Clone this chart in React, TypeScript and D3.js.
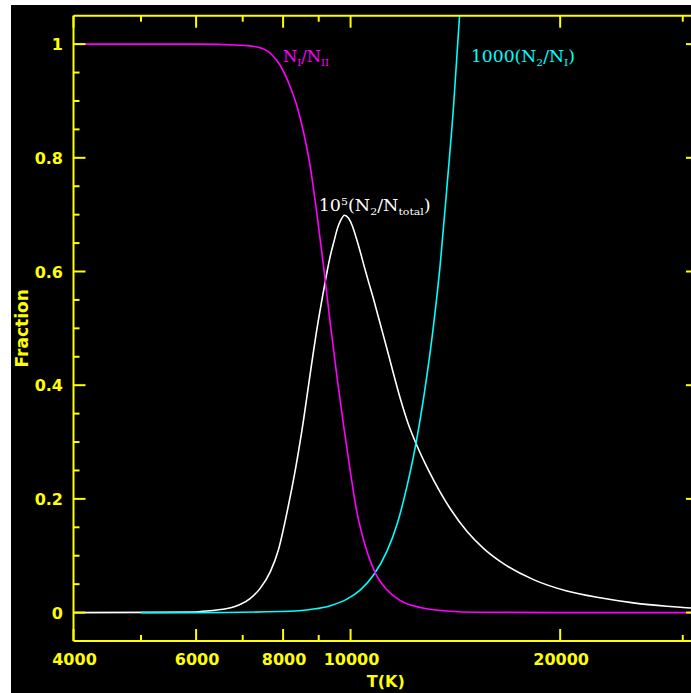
import React from "react";
import * as d3 from "d3";

// ---- data ----
const X_MAJOR = [4000, 6000, 8000, 10000, 20000];
const X_MINOR = [5000, 7000, 9000, 30000];
const Y_MAJOR = [0, 0.2, 0.4, 0.6, 0.8, 1];
const Y_MINOR = [0.05, 0.1, 0.15, 0.25, 0.3, 0.35, 0.45, 0.5, 0.55, 0.65, 0.7, 0.75, 0.85, 0.9, 0.95];
const Y_LABELS = ["0", "0.2", "0.4", "0.6", "0.8", "1"];

// N_I / N_total (magenta)
const ionT = [4000, 5000, 6000, 6950, 7340, 7670, 7930, 8190, 8380, 8560, 8750, 8950, 9150, 9350, 9560, 9770, 9990, 10210, 10500, 10850, 11280, 11790, 12590, 13900, 15190, 20000, 31550];
const ionV = [1, 1, 1, 0.998, 0.995, 0.984, 0.962, 0.925, 0.89, 0.845, 0.785, 0.7, 0.607, 0.509, 0.415, 0.33, 0.249, 0.177, 0.117, 0.07, 0.04, 0.021, 0.009, 0.0023, 0.0005, 0, 0];

// 1e5 (N2 / N_total) (white)
const totT = [4000, 5950, 6090, 6430, 6790, 6950, 7180, 7420, 7670, 7880, 8100, 8330, 8560, 8750, 8950, 9170, 9260, 9350, 9480, 9570, 9670, 9800, 9930, 10060, 10190, 10330, 10460, 10600, 10820, 11030, 11290, 11520, 11790, 12100, 12460, 12800, 13160, 13900, 14690, 15520, 16400, 18310, 20450, 22830, 25480, 28450, 30840, 31550];
const totV = [0, 0.0008, 0.002, 0.0045, 0.01, 0.0145, 0.025, 0.043, 0.072, 0.111, 0.175, 0.251, 0.339, 0.42, 0.5, 0.574, 0.602, 0.627, 0.656, 0.675, 0.689, 0.699, 0.694, 0.68, 0.659, 0.634, 0.609, 0.584, 0.546, 0.508, 0.462, 0.421, 0.376, 0.332, 0.293, 0.262, 0.233, 0.183, 0.143, 0.113, 0.09, 0.058, 0.038, 0.026, 0.017, 0.011, 0.008, 0.0075];

// 1000 (N2 / N1) (cyan)
const excT = [5000, 6000, 7930, 8850, 9350, 9880, 10330, 10790, 11280, 11660, 12050, 12390, 12730, 13160, 13450, 13750, 14060, 14340];
const excV = [0, 0, 0.0018, 0.0062, 0.0122, 0.0237, 0.04, 0.066, 0.108, 0.155, 0.222, 0.292, 0.377, 0.506, 0.612, 0.747, 0.892, 1.05];

const YELLOW = "#ffff00";

export default function App() {
  const W = 691;
  const H = 693;
  const left = 73.5, right = 698, top = 15.7, bottom = 641;
  const x = d3.scaleLog().domain([4000, 31550]).range([left, right]);
  const y = d3.scaleLinear().domain([-0.05, 1.05]).range([bottom, top]);
  const line = d3
    .line<[number, number]>()
    .x((d) => x(d[0]))
    .y((d) => y(d[1]))
    .curve(d3.curveMonotoneX);

  const series = [
    { t: totT, v: totV, color: "#ffffff" },
    { t: excT, v: excV, color: "#00ffff" },
    { t: ionT, v: ionV, color: "#ff00ff" },
  ];

  const tickFont = { fontFamily: "DejaVu Sans", fontWeight: 700, fontSize: 16 };
  const serif = { fontFamily: "DejaVu Serif", fontSize: 16 };

  return (
    <svg
      width={W}
      height={H}
      style={{ position: "absolute", left: 0, top: 0 }}
    >
      <rect x={0} y={0} width={W} height={H} fill="#ffffff" />
      <rect x={11} y={5} width={W - 11} height={H - 5} fill="#000000" />
      <defs>
        <clipPath id="plot">
          <rect x={left} y={top} width={right - left} height={bottom - top} />
        </clipPath>
      </defs>

      {/* curves */}
      <g clipPath="url(#plot)">
        {series.map((s, i) => (
          <path
            key={i}
            d={line(d3.zip(s.t, s.v) as [number, number][]) || ""}
            fill="none"
            stroke={s.color}
            strokeWidth={1.6}
          />
        ))}
      </g>

      {/* frame */}
      <g stroke={YELLOW} strokeWidth={2} fill="none">
        <line x1={left} x2={right} y1={top} y2={top} />
        <line x1={left} x2={right} y1={bottom} y2={bottom} />
        <line x1={left} x2={left} y1={top} y2={bottom} />
        <line x1={right} x2={right} y1={top} y2={bottom} />
        {X_MAJOR.map((t) => (
          <g key={"xM" + t}>
            <line x1={x(t)} x2={x(t)} y1={bottom} y2={bottom - 12} />
            <line x1={x(t)} x2={x(t)} y1={top} y2={top + 12} />
          </g>
        ))}
        {X_MINOR.map((t) => (
          <g key={"xm" + t}>
            <line x1={x(t)} x2={x(t)} y1={bottom} y2={bottom - 6} />
            <line x1={x(t)} x2={x(t)} y1={top} y2={top + 6} />
          </g>
        ))}
        {Y_MAJOR.map((v) => (
          <g key={"yM" + v}>
            <line x1={left} x2={left + 12} y1={y(v)} y2={y(v)} />
            <line x1={right} x2={right - 12} y1={y(v)} y2={y(v)} />
          </g>
        ))}
        {Y_MINOR.map((v) => (
          <g key={"ym" + v}>
            <line x1={left} x2={left + 6} y1={y(v)} y2={y(v)} />
            <line x1={right} x2={right - 6} y1={y(v)} y2={y(v)} />
          </g>
        ))}
      </g>

      {/* tick labels */}
      <g fill={YELLOW} style={tickFont}>
        {X_MAJOR.map((t) => (
          <text key={"xl" + t} x={x(t) + 1} y={665} textAnchor="middle">
            {String(t)}
          </text>
        ))}
        {Y_MAJOR.map((v, i) => (
          <text key={"yl" + v} x={63} y={y(v) + 6} textAnchor="end">
            {Y_LABELS[i]}
          </text>
        ))}
        <text x={(left + right) / 2} y={687} textAnchor="middle">
          T(K)
        </text>
        <text
          transform={`translate(27.5, ${(top + bottom) / 2}) rotate(-90)`}
          textAnchor="middle"
          fontSize={17}
        >
          Fraction
        </text>
      </g>

      {/* curve annotations */}
      <text x={x(8000)} y={y(0.968)} fill="#ff00ff" style={serif} textLength={46} lengthAdjust="spacingAndGlyphs">
        <tspan>N</tspan>
        <tspan dy={4} fontSize={10}>I</tspan>
        <tspan dy={-4}>/N</tspan>
        <tspan dy={4} fontSize={10}>II</tspan>
      </text>
      <text x={x(14890)} y={y(0.968)} fill="#00ffff" style={serif} textLength={104} lengthAdjust="spacingAndGlyphs">
        <tspan>1000(N</tspan>
        <tspan dy={4} fontSize={10}>2</tspan>
        <tspan dy={-4}>/N</tspan>
        <tspan dy={4} fontSize={10}>I</tspan>
        <tspan dy={-4}>)</tspan>
      </text>
      <text x={x(9000)} y={y(0.7056)} fill="#ffffff" style={serif} textLength={112} lengthAdjust="spacingAndGlyphs">
        <tspan>10</tspan>
        <tspan dy={-6} fontSize={10}>5</tspan>
        <tspan dy={6}>(N</tspan>
        <tspan dy={4} fontSize={10}>2</tspan>
        <tspan dy={-4}>/N</tspan>
        <tspan dy={4} fontSize={10}>total</tspan>
        <tspan dy={-4}>)</tspan>
      </text>
    </svg>
  );
}
